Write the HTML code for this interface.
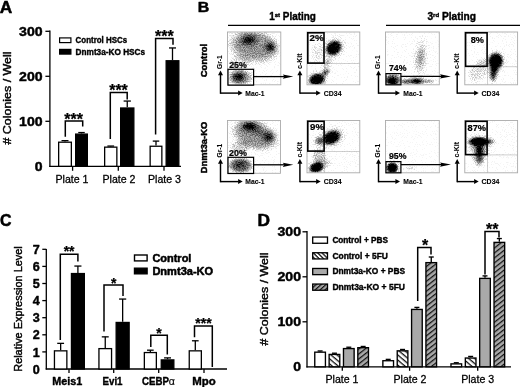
<!DOCTYPE html>
<html><head><meta charset="utf-8"><title>Figure</title>
<style>html,body{margin:0;padding:0;background:#fff}svg{display:block}text{font-family:"Liberation Sans", sans-serif}</style>
</head><body>
<svg width="520" height="387" viewBox="0 0 520 387">
<defs>
<radialGradient id="bg"><stop offset="0.0" stop-color="#000" stop-opacity="1.000"/><stop offset="0.1" stop-color="#000" stop-opacity="0.955"/><stop offset="0.2" stop-color="#000" stop-opacity="0.833"/><stop offset="0.3" stop-color="#000" stop-opacity="0.664"/><stop offset="0.4" stop-color="#000" stop-opacity="0.482"/><stop offset="0.5" stop-color="#000" stop-opacity="0.319"/><stop offset="0.6" stop-color="#000" stop-opacity="0.191"/><stop offset="0.7" stop-color="#000" stop-opacity="0.103"/><stop offset="0.8" stop-color="#000" stop-opacity="0.047"/><stop offset="0.9" stop-color="#000" stop-opacity="0.016"/><stop offset="1.0" stop-color="#000" stop-opacity="0.000"/></radialGradient>
<radialGradient id="bf"><stop offset="0" stop-color="#000" stop-opacity="1"/><stop offset="0.55" stop-color="#000" stop-opacity="0.9"/><stop offset="0.75" stop-color="#000" stop-opacity="0.5"/><stop offset="0.9" stop-color="#000" stop-opacity="0.15"/><stop offset="1" stop-color="#000" stop-opacity="0"/></radialGradient>
<pattern id="h1" width="3.9" height="3.9" patternUnits="userSpaceOnUse" patternTransform="rotate(40)"><rect width="3.9" height="3.9" fill="#fff"/><rect width="3.9" height="1.3" fill="#111"/></pattern>
<pattern id="h2" width="3.9" height="3.9" patternUnits="userSpaceOnUse" patternTransform="rotate(-38)"><rect width="3.9" height="3.9" fill="#a9a9a9"/><rect width="3.9" height="1.25" fill="#111"/></pattern>
<pattern id="h1s" width="3.1" height="3.1" patternUnits="userSpaceOnUse" patternTransform="rotate(45)"><rect width="3.1" height="3.1" fill="#fff"/><rect width="3.1" height="1.3" fill="#111"/></pattern>
<pattern id="h2s" width="3.3" height="3.3" patternUnits="userSpaceOnUse" patternTransform="rotate(-42)"><rect width="3.3" height="3.3" fill="#a9a9a9"/><rect width="3.3" height="1.2" fill="#111"/></pattern>
<filter id="soft" x="0" y="0" width="520" height="387" filterUnits="userSpaceOnUse"><feGaussianBlur stdDeviation="0.38"/></filter>
<filter id="dots" x="0" y="0" width="100%" height="100%" color-interpolation-filters="sRGB">
<feTurbulence type="fractalNoise" baseFrequency="0.9" numOctaves="2" seed="7" result="n"/>
<feColorMatrix in="n" type="matrix" values="0 0 0 0 0  0 0 0 0 0  0 0 0 0 0  3 0 0 0 -1" result="na"/>
<feComposite in="SourceGraphic" in2="na" operator="arithmetic" k1="0" k2="1.4" k3="-0.3" k4="0" result="c"/>
<feGaussianBlur in="c" stdDeviation="0.55"/>
</filter>
</defs>
<rect width="520" height="387" fill="#fff"/>
<g id="fig" filter="url(#soft)">
<text x="-0.3" y="12.6" font-size="16" stroke="#000" stroke-width="0.5" stroke-linejoin="round" font-weight="bold" textLength="12.5" lengthAdjust="spacingAndGlyphs">A</text>
<line x1="49.9" y1="30.4" x2="49.9" y2="166.9" stroke="#000" stroke-width="1.3"/>
<line x1="49.3" y1="166.3" x2="181" y2="166.3" stroke="#000" stroke-width="1.3"/>
<text x="42.6" y="170.9" font-size="13.2" stroke="#000" stroke-width="0.45" stroke-linejoin="round" font-weight="bold" text-anchor="end" textLength="7.8" lengthAdjust="spacingAndGlyphs">0</text>
<line x1="45.4" y1="121.30000000000001" x2="49.9" y2="121.30000000000001" stroke="#000" stroke-width="1.3"/>
<text x="42.6" y="125.9" font-size="13.2" stroke="#000" stroke-width="0.45" stroke-linejoin="round" font-weight="bold" text-anchor="end" textLength="23.5" lengthAdjust="spacingAndGlyphs">100</text>
<line x1="45.4" y1="76.30000000000001" x2="49.9" y2="76.30000000000001" stroke="#000" stroke-width="1.3"/>
<text x="42.6" y="80.9" font-size="13.2" stroke="#000" stroke-width="0.45" stroke-linejoin="round" font-weight="bold" text-anchor="end" textLength="23.5" lengthAdjust="spacingAndGlyphs">200</text>
<line x1="45.4" y1="31.30000000000001" x2="49.9" y2="31.30000000000001" stroke="#000" stroke-width="1.3"/>
<text x="42.6" y="35.90000000000001" font-size="13.2" stroke="#000" stroke-width="0.45" stroke-linejoin="round" font-weight="bold" text-anchor="end" textLength="23.5" lengthAdjust="spacingAndGlyphs">300</text>
<line x1="72.6" y1="166.3" x2="72.6" y2="170.8" stroke="#000" stroke-width="1.3"/>
<line x1="118.3" y1="166.3" x2="118.3" y2="170.8" stroke="#000" stroke-width="1.3"/>
<line x1="164" y1="166.3" x2="164" y2="170.8" stroke="#000" stroke-width="1.3"/>
<line x1="65.0" y1="141.55" x2="65.0" y2="140.65" stroke="#000" stroke-width="1.3"/>
<line x1="61.5" y1="140.65" x2="68.5" y2="140.65" stroke="#000" stroke-width="1.3"/>
<rect x="58.65" y="142.20000000000002" width="12.7" height="24.1" fill="#fff" stroke="#000" stroke-width="1.3"/>
<line x1="81.5" y1="133.45000000000002" x2="81.5" y2="132.55" stroke="#000" stroke-width="1.3"/>
<line x1="78.25" y1="132.55" x2="84.75" y2="132.55" stroke="#000" stroke-width="1.3"/>
<rect x="75.65" y="134.10000000000002" width="11.7" height="32.199999999999996" fill="#000" stroke="#000" stroke-width="1.3"/>
<line x1="110.75" y1="146.5" x2="110.75" y2="146.05" stroke="#000" stroke-width="1.3"/>
<line x1="107.375" y1="146.05" x2="114.125" y2="146.05" stroke="#000" stroke-width="1.3"/>
<rect x="104.65" y="147.15" width="12.2" height="19.150000000000013" fill="#fff" stroke="#000" stroke-width="1.3"/>
<line x1="127.25" y1="107.35000000000001" x2="127.25" y2="101.05000000000001" stroke="#000" stroke-width="1.3"/>
<line x1="123.625" y1="101.05000000000001" x2="130.875" y2="101.05000000000001" stroke="#000" stroke-width="1.3"/>
<rect x="120.65" y="108.00000000000001" width="13.2" height="58.300000000000004" fill="#000" stroke="#000" stroke-width="1.3"/>
<line x1="156.0" y1="145.60000000000002" x2="156.0" y2="141.10000000000002" stroke="#000" stroke-width="1.3"/>
<line x1="152.75" y1="141.10000000000002" x2="159.25" y2="141.10000000000002" stroke="#000" stroke-width="1.3"/>
<rect x="150.15" y="146.25000000000003" width="11.7" height="20.04999999999999" fill="#fff" stroke="#000" stroke-width="1.3"/>
<line x1="172.5" y1="60.10000000000001" x2="172.5" y2="47.95000000000001" stroke="#000" stroke-width="1.3"/>
<line x1="169.0" y1="47.95000000000001" x2="176.0" y2="47.95000000000001" stroke="#000" stroke-width="1.3"/>
<rect x="166.15" y="60.75000000000001" width="12.7" height="105.55" fill="#000" stroke="#000" stroke-width="1.3"/>
<path d="M65.3 136.8V121H82.7V126.5" stroke="#000" stroke-width="1.5" fill="none"/>
<text x="73.7" y="124.7" font-size="16" stroke="#000" stroke-width="0.25" stroke-linejoin="round" font-weight="bold" text-anchor="middle">***</text>
<path d="M110.3 139V92.5H127.2V99.5" stroke="#000" stroke-width="1.5" fill="none"/>
<text x="118.5" y="96.2" font-size="16" stroke="#000" stroke-width="0.25" stroke-linejoin="round" font-weight="bold" text-anchor="middle">***</text>
<path d="M155.6 134.5V38.4H173V44.8" stroke="#000" stroke-width="1.5" fill="none"/>
<text x="164.3" y="42.1" font-size="16" stroke="#000" stroke-width="0.25" stroke-linejoin="round" font-weight="bold" text-anchor="middle">***</text>
<text x="72" y="183.4" font-size="11.3" stroke="#000" stroke-width="0.3" stroke-linejoin="round" text-anchor="middle" textLength="33" lengthAdjust="spacingAndGlyphs">Plate 1</text>
<text x="119" y="183.3" font-size="11.3" stroke="#000" stroke-width="0.3" stroke-linejoin="round" text-anchor="middle" textLength="33" lengthAdjust="spacingAndGlyphs">Plate 2</text>
<text x="164.5" y="183.3" font-size="11.3" stroke="#000" stroke-width="0.3" stroke-linejoin="round" text-anchor="middle" textLength="33" lengthAdjust="spacingAndGlyphs">Plate 3</text>
<rect x="59.6" y="37.9" width="11.3" height="4.7" fill="#fff" stroke="#000" stroke-width="1.2"/>
<rect x="59.6" y="49.4" width="11.3" height="4.7" fill="#000" stroke="#000" stroke-width="1.2"/>
<text x="75.6" y="42.9" font-size="9" stroke="#000" stroke-width="0.4" stroke-linejoin="round" font-weight="bold" textLength="51.5" lengthAdjust="spacingAndGlyphs">Control HSCs</text>
<text x="75.6" y="54.9" font-size="9" stroke="#000" stroke-width="0.4" stroke-linejoin="round" font-weight="bold" textLength="69.5" lengthAdjust="spacingAndGlyphs">Dnmt3a-KO HSCs</text>
<text x="10.7" y="98" font-size="10.8" stroke="#000" stroke-width="0.42" stroke-linejoin="round" text-anchor="middle" textLength="93" lengthAdjust="spacingAndGlyphs" transform="rotate(-90 10.7 98)"># Colonies / Well</text>
<text x="0" y="225.7" font-size="16" stroke="#000" stroke-width="0.5" stroke-linejoin="round" font-weight="bold" textLength="11.5" lengthAdjust="spacingAndGlyphs">C</text>
<line x1="46.3" y1="249" x2="46.3" y2="369.6" stroke="#000" stroke-width="1.3"/>
<line x1="45.699999999999996" y1="369" x2="227" y2="369" stroke="#000" stroke-width="1.3"/>
<text x="39.8" y="373.6" font-size="13.2" stroke="#000" stroke-width="0.45" stroke-linejoin="round" font-weight="bold" text-anchor="end" textLength="7" lengthAdjust="spacingAndGlyphs">0</text>
<line x1="42.3" y1="351.9" x2="46.3" y2="351.9" stroke="#000" stroke-width="1.3"/>
<text x="39.8" y="356.5" font-size="13.2" stroke="#000" stroke-width="0.45" stroke-linejoin="round" font-weight="bold" text-anchor="end" textLength="7" lengthAdjust="spacingAndGlyphs">1</text>
<line x1="42.3" y1="334.8" x2="46.3" y2="334.8" stroke="#000" stroke-width="1.3"/>
<text x="39.8" y="339.40000000000003" font-size="13.2" stroke="#000" stroke-width="0.45" stroke-linejoin="round" font-weight="bold" text-anchor="end" textLength="7" lengthAdjust="spacingAndGlyphs">2</text>
<line x1="42.3" y1="317.7" x2="46.3" y2="317.7" stroke="#000" stroke-width="1.3"/>
<text x="39.8" y="322.3" font-size="13.2" stroke="#000" stroke-width="0.45" stroke-linejoin="round" font-weight="bold" text-anchor="end" textLength="7" lengthAdjust="spacingAndGlyphs">3</text>
<line x1="42.3" y1="300.6" x2="46.3" y2="300.6" stroke="#000" stroke-width="1.3"/>
<text x="39.8" y="305.20000000000005" font-size="13.2" stroke="#000" stroke-width="0.45" stroke-linejoin="round" font-weight="bold" text-anchor="end" textLength="7" lengthAdjust="spacingAndGlyphs">4</text>
<line x1="42.3" y1="283.5" x2="46.3" y2="283.5" stroke="#000" stroke-width="1.3"/>
<text x="39.8" y="288.1" font-size="13.2" stroke="#000" stroke-width="0.45" stroke-linejoin="round" font-weight="bold" text-anchor="end" textLength="7" lengthAdjust="spacingAndGlyphs">5</text>
<line x1="42.3" y1="266.4" x2="46.3" y2="266.4" stroke="#000" stroke-width="1.3"/>
<text x="39.8" y="271.0" font-size="13.2" stroke="#000" stroke-width="0.45" stroke-linejoin="round" font-weight="bold" text-anchor="end" textLength="7" lengthAdjust="spacingAndGlyphs">6</text>
<line x1="42.3" y1="249.29999999999998" x2="46.3" y2="249.29999999999998" stroke="#000" stroke-width="1.3"/>
<text x="39.8" y="253.89999999999998" font-size="13.2" stroke="#000" stroke-width="0.45" stroke-linejoin="round" font-weight="bold" text-anchor="end" textLength="7" lengthAdjust="spacingAndGlyphs">7</text>
<line x1="69" y1="369" x2="69" y2="373" stroke="#000" stroke-width="1.3"/>
<line x1="113.7" y1="369" x2="113.7" y2="373" stroke="#000" stroke-width="1.3"/>
<line x1="158.7" y1="369" x2="158.7" y2="373" stroke="#000" stroke-width="1.3"/>
<line x1="204" y1="369" x2="204" y2="373" stroke="#000" stroke-width="1.3"/>
<line x1="60.65" y1="350.19" x2="60.65" y2="343.35" stroke="#000" stroke-width="1.3"/>
<line x1="57.224999999999994" y1="343.35" x2="64.075" y2="343.35" stroke="#000" stroke-width="1.3"/>
<rect x="54.449999999999996" y="350.84" width="12.400000000000002" height="18.160000000000004" fill="#fff" stroke="#000" stroke-width="1.3"/>
<line x1="77.9" y1="272.898" x2="77.9" y2="266.05800000000005" stroke="#000" stroke-width="1.3"/>
<line x1="74.35000000000001" y1="266.05800000000005" x2="81.45" y2="266.05800000000005" stroke="#000" stroke-width="1.3"/>
<rect x="71.45" y="273.548" width="12.900000000000002" height="95.45199999999997" fill="#000" stroke="#000" stroke-width="1.3"/>
<line x1="105.25" y1="347.967" x2="105.25" y2="336.852" stroke="#000" stroke-width="1.3"/>
<line x1="101.775" y1="336.852" x2="108.725" y2="336.852" stroke="#000" stroke-width="1.3"/>
<rect x="98.95" y="348.61699999999996" width="12.600000000000005" height="20.383000000000017" fill="#fff" stroke="#000" stroke-width="1.3"/>
<line x1="122.65" y1="321.804" x2="122.65" y2="299.061" stroke="#000" stroke-width="1.3"/>
<line x1="119.075" y1="299.061" x2="126.22500000000001" y2="299.061" stroke="#000" stroke-width="1.3"/>
<rect x="116.15" y="322.45399999999995" width="13.00000000000001" height="46.54600000000003" fill="#000" stroke="#000" stroke-width="1.3"/>
<line x1="150.35" y1="351.9" x2="150.35" y2="350.19" stroke="#000" stroke-width="1.3"/>
<line x1="147.02499999999998" y1="350.19" x2="153.675" y2="350.19" stroke="#000" stroke-width="1.3"/>
<rect x="144.35" y="352.54999999999995" width="12.00000000000001" height="16.450000000000024" fill="#fff" stroke="#000" stroke-width="1.3"/>
<line x1="167.55" y1="359.253" x2="167.55" y2="357.885" stroke="#000" stroke-width="1.3"/>
<line x1="164.07500000000002" y1="357.885" x2="171.025" y2="357.885" stroke="#000" stroke-width="1.3"/>
<rect x="161.25" y="359.90299999999996" width="12.600000000000005" height="9.097000000000014" fill="#000" stroke="#000" stroke-width="1.3"/>
<line x1="195.3" y1="350.19" x2="195.3" y2="340.78499999999997" stroke="#000" stroke-width="1.3"/>
<line x1="191.95000000000002" y1="340.78499999999997" x2="198.65" y2="340.78499999999997" stroke="#000" stroke-width="1.3"/>
<rect x="189.25" y="350.84" width="12.100000000000005" height="18.160000000000004" fill="#fff" stroke="#000" stroke-width="1.3"/>
<path d="M60.3 340V254.2H77.9V261.5" stroke="#000" stroke-width="1.5" fill="none"/>
<text x="69.1" y="255.8" font-size="14" stroke="#000" stroke-width="0.25" stroke-linejoin="round" font-weight="bold" text-anchor="middle">**</text>
<path d="M104 331.5V285H123V296" stroke="#000" stroke-width="1.5" fill="none"/>
<text x="113.7" y="287.5" font-size="14" stroke="#000" stroke-width="0.25" stroke-linejoin="round" font-weight="bold" text-anchor="middle">*</text>
<path d="M150.8 347V335.3H167.3V354.5" stroke="#000" stroke-width="1.5" fill="none"/>
<text x="159" y="337.8" font-size="14" stroke="#000" stroke-width="0.25" stroke-linejoin="round" font-weight="bold" text-anchor="middle">*</text>
<path d="M194.5 337.3V325.9H212.3V367" stroke="#000" stroke-width="1.5" fill="none"/>
<text x="203.5" y="328.4" font-size="14" stroke="#000" stroke-width="0.25" stroke-linejoin="round" font-weight="bold" text-anchor="middle">***</text>
<text x="67.3" y="384.6" font-size="10.5" stroke="#000" stroke-width="0.4" stroke-linejoin="round" font-weight="bold" text-anchor="middle" textLength="30" lengthAdjust="spacingAndGlyphs">Meis1</text>
<text x="112.5" y="384.6" font-size="10.5" stroke="#000" stroke-width="0.4" stroke-linejoin="round" font-weight="bold" text-anchor="middle" textLength="20" lengthAdjust="spacingAndGlyphs">Evi1</text>
<text x="158.5" y="384.6" font-size="10.5" stroke="#000" stroke-width="0.4" stroke-linejoin="round" font-weight="bold" text-anchor="middle" textLength="33" lengthAdjust="spacingAndGlyphs">CEBP<tspan font-weight="normal" stroke-width="0.15" font-size="11.5">α</tspan></text>
<text x="204" y="384.6" font-size="10.5" stroke="#000" stroke-width="0.4" stroke-linejoin="round" font-weight="bold" text-anchor="middle" textLength="23.5" lengthAdjust="spacingAndGlyphs">Mpo</text>
<rect x="134.5" y="255" width="12.6" height="5.9" fill="#fff" stroke="#000" stroke-width="1.4"/>
<rect x="134.5" y="268.2" width="12.6" height="5.6" fill="#000" stroke="#000" stroke-width="1.4"/>
<text x="152.4" y="261.6" font-size="10.5" stroke="#000" stroke-width="0.5" stroke-linejoin="round" font-weight="bold" textLength="39" lengthAdjust="spacingAndGlyphs">Control</text>
<text x="152.4" y="274.6" font-size="10.5" stroke="#000" stroke-width="0.5" stroke-linejoin="round" font-weight="bold" textLength="60.8" lengthAdjust="spacingAndGlyphs">Dnmt3a-KO</text>
<text x="21.7" y="309" font-size="10.8" stroke="#000" stroke-width="0.42" stroke-linejoin="round" text-anchor="middle" textLength="125.5" lengthAdjust="spacingAndGlyphs" transform="rotate(-90 21.7 309)">Relative Expression Level</text>
<text x="257.5" y="225.7" font-size="16" stroke="#000" stroke-width="0.5" stroke-linejoin="round" font-weight="bold" textLength="12.5" lengthAdjust="spacingAndGlyphs">D</text>
<line x1="307" y1="231" x2="307" y2="367.40000000000003" stroke="#000" stroke-width="1.3"/>
<line x1="306.4" y1="366.8" x2="511" y2="366.8" stroke="#000" stroke-width="1.3"/>
<text x="301" y="371.40000000000003" font-size="13.2" stroke="#000" stroke-width="0.45" stroke-linejoin="round" font-weight="bold" text-anchor="end" textLength="7.8" lengthAdjust="spacingAndGlyphs">0</text>
<line x1="302.5" y1="321.8" x2="307" y2="321.8" stroke="#000" stroke-width="1.3"/>
<text x="301" y="326.40000000000003" font-size="13.2" stroke="#000" stroke-width="0.45" stroke-linejoin="round" font-weight="bold" text-anchor="end" textLength="23.5" lengthAdjust="spacingAndGlyphs">100</text>
<line x1="302.5" y1="276.8" x2="307" y2="276.8" stroke="#000" stroke-width="1.3"/>
<text x="301" y="281.40000000000003" font-size="13.2" stroke="#000" stroke-width="0.45" stroke-linejoin="round" font-weight="bold" text-anchor="end" textLength="23.5" lengthAdjust="spacingAndGlyphs">200</text>
<line x1="302.5" y1="231.8" x2="307" y2="231.8" stroke="#000" stroke-width="1.3"/>
<text x="301" y="236.4" font-size="13.2" stroke="#000" stroke-width="0.45" stroke-linejoin="round" font-weight="bold" text-anchor="end" textLength="23.5" lengthAdjust="spacingAndGlyphs">300</text>
<line x1="342.3" y1="366.8" x2="342.3" y2="370.8" stroke="#000" stroke-width="1.3"/>
<line x1="409.6" y1="366.8" x2="409.6" y2="370.8" stroke="#000" stroke-width="1.3"/>
<line x1="477.7" y1="366.8" x2="477.7" y2="370.8" stroke="#000" stroke-width="1.3"/>
<line x1="320.1" y1="351.5" x2="320.1" y2="350.96" stroke="#000" stroke-width="1.35"/>
<line x1="317.6" y1="350.96" x2="322.6" y2="350.96" stroke="#000" stroke-width="1.35"/>
<rect x="314.77500000000003" y="352.175" width="10.65" height="14.62500000000001" fill="#fff" stroke="#000" stroke-width="1.35"/>
<line x1="334.45000000000005" y1="353.75" x2="334.45000000000005" y2="353.21" stroke="#000" stroke-width="1.35"/>
<line x1="331.95000000000005" y1="353.21" x2="336.95000000000005" y2="353.21" stroke="#000" stroke-width="1.35"/>
<rect x="329.12500000000006" y="354.425" width="10.65" height="12.37500000000001" fill="url(#h1)" stroke="#000" stroke-width="1.35"/>
<line x1="348.8" y1="347.90000000000003" x2="348.8" y2="347.225" stroke="#000" stroke-width="1.35"/>
<line x1="346.3" y1="347.225" x2="351.3" y2="347.225" stroke="#000" stroke-width="1.35"/>
<rect x="343.475" y="348.57500000000005" width="10.65" height="18.224999999999977" fill="#a9a9a9" stroke="#000" stroke-width="1.35"/>
<line x1="363.15000000000003" y1="347.0" x2="363.15000000000003" y2="346.46" stroke="#000" stroke-width="1.35"/>
<line x1="360.65000000000003" y1="346.46" x2="365.65000000000003" y2="346.46" stroke="#000" stroke-width="1.35"/>
<rect x="357.82500000000005" y="347.675" width="10.65" height="19.12500000000001" fill="url(#h2)" stroke="#000" stroke-width="1.35"/>
<line x1="388.2" y1="360.05" x2="388.2" y2="359.375" stroke="#000" stroke-width="1.35"/>
<line x1="385.7" y1="359.375" x2="390.7" y2="359.375" stroke="#000" stroke-width="1.35"/>
<rect x="382.875" y="360.725" width="10.65" height="6.075" fill="#fff" stroke="#000" stroke-width="1.35"/>
<line x1="402.55" y1="350.15000000000003" x2="402.55" y2="349.475" stroke="#000" stroke-width="1.35"/>
<line x1="400.05" y1="349.475" x2="405.05" y2="349.475" stroke="#000" stroke-width="1.35"/>
<rect x="397.225" y="350.82500000000005" width="10.65" height="15.974999999999977" fill="url(#h1)" stroke="#000" stroke-width="1.35"/>
<line x1="416.9" y1="308.75" x2="416.9" y2="307.4" stroke="#000" stroke-width="1.35"/>
<line x1="414.4" y1="307.4" x2="419.4" y2="307.4" stroke="#000" stroke-width="1.35"/>
<rect x="411.575" y="309.425" width="10.65" height="57.375000000000014" fill="#a9a9a9" stroke="#000" stroke-width="1.35"/>
<line x1="431.25" y1="261.95" x2="431.25" y2="257.0" stroke="#000" stroke-width="1.35"/>
<line x1="428.75" y1="257.0" x2="433.75" y2="257.0" stroke="#000" stroke-width="1.35"/>
<rect x="425.925" y="262.625" width="10.65" height="104.17500000000003" fill="url(#h2)" stroke="#000" stroke-width="1.35"/>
<line x1="456.3" y1="363.2" x2="456.3" y2="362.75" stroke="#000" stroke-width="1.35"/>
<line x1="453.8" y1="362.75" x2="458.8" y2="362.75" stroke="#000" stroke-width="1.35"/>
<rect x="450.975" y="363.875" width="10.65" height="2.925000000000023" fill="#fff" stroke="#000" stroke-width="1.35"/>
<line x1="470.65000000000003" y1="357.35" x2="470.65000000000003" y2="356.45000000000005" stroke="#000" stroke-width="1.35"/>
<line x1="468.15000000000003" y1="356.45000000000005" x2="473.15000000000003" y2="356.45000000000005" stroke="#000" stroke-width="1.35"/>
<rect x="465.32500000000005" y="358.02500000000003" width="10.65" height="8.774999999999988" fill="url(#h1)" stroke="#000" stroke-width="1.35"/>
<line x1="485.0" y1="277.7" x2="485.0" y2="275.9" stroke="#000" stroke-width="1.35"/>
<line x1="482.5" y1="275.9" x2="487.5" y2="275.9" stroke="#000" stroke-width="1.35"/>
<rect x="479.675" y="278.375" width="10.65" height="88.42500000000003" fill="#a9a9a9" stroke="#000" stroke-width="1.35"/>
<line x1="499.35" y1="241.7" x2="499.35" y2="238.54999999999998" stroke="#000" stroke-width="1.35"/>
<line x1="496.85" y1="238.54999999999998" x2="501.85" y2="238.54999999999998" stroke="#000" stroke-width="1.35"/>
<rect x="494.02500000000003" y="242.375" width="10.65" height="124.42500000000003" fill="url(#h2)" stroke="#000" stroke-width="1.35"/>
<path d="M417.7 301V247.4H431V254.6" stroke="#000" stroke-width="1.5" fill="none"/>
<text x="425" y="251.1" font-size="16" stroke="#000" stroke-width="0.25" stroke-linejoin="round" font-weight="bold" text-anchor="middle">*</text>
<path d="M485 274.5V231.6H499V237.5" stroke="#000" stroke-width="1.5" fill="none"/>
<text x="492.2" y="235.3" font-size="16" stroke="#000" stroke-width="0.25" stroke-linejoin="round" font-weight="bold" text-anchor="middle">**</text>
<text x="342" y="383.3" font-size="11.3" stroke="#000" stroke-width="0.3" stroke-linejoin="round" text-anchor="middle" textLength="33" lengthAdjust="spacingAndGlyphs">Plate 1</text>
<text x="410" y="383.3" font-size="11.3" stroke="#000" stroke-width="0.3" stroke-linejoin="round" text-anchor="middle" textLength="33" lengthAdjust="spacingAndGlyphs">Plate 2</text>
<text x="477.7" y="383.3" font-size="11.3" stroke="#000" stroke-width="0.3" stroke-linejoin="round" text-anchor="middle" textLength="33" lengthAdjust="spacingAndGlyphs">Plate 3</text>
<rect x="312.7" y="237.05" width="14.8" height="6.2" fill="#fff" stroke="#000" stroke-width="1.3"/>
<text x="332.4" y="243.3" font-size="8.6" stroke="#000" stroke-width="0.4" stroke-linejoin="round" font-weight="bold" textLength="55.5" lengthAdjust="spacingAndGlyphs">Control + PBS</text>
<rect x="312.7" y="252.75" width="14.8" height="6.2" fill="url(#h1s)" stroke="#000" stroke-width="1.3"/>
<text x="332.4" y="258.7" font-size="8.6" stroke="#000" stroke-width="0.4" stroke-linejoin="round" font-weight="bold" textLength="55.5" lengthAdjust="spacingAndGlyphs">Control + 5FU</text>
<rect x="312.7" y="268.45" width="14.8" height="6.2" fill="#a9a9a9" stroke="#000" stroke-width="1.3"/>
<text x="332.4" y="274.2" font-size="8.6" stroke="#000" stroke-width="0.4" stroke-linejoin="round" font-weight="bold" textLength="72.6" lengthAdjust="spacingAndGlyphs">Dnmt3a-KO + PBS</text>
<rect x="312.7" y="284.05" width="14.8" height="6.2" fill="url(#h2s)" stroke="#000" stroke-width="1.3"/>
<text x="332.4" y="289.9" font-size="8.6" stroke="#000" stroke-width="0.4" stroke-linejoin="round" font-weight="bold" textLength="72.6" lengthAdjust="spacingAndGlyphs">Dnmt3a-KO + 5FU</text>
<text x="268.1" y="299" font-size="10.8" stroke="#000" stroke-width="0.42" stroke-linejoin="round" text-anchor="middle" textLength="93" lengthAdjust="spacingAndGlyphs" transform="rotate(-90 268.1 299)"># Colonies / Well</text>
<text x="197.7" y="12.4" font-size="15.3" stroke="#000" stroke-width="0.5" stroke-linejoin="round" font-weight="bold" textLength="11.5" lengthAdjust="spacingAndGlyphs">B</text>
<text x="269.2" y="20.2" font-size="10.3" stroke="#000" stroke-width="0.4" stroke-linejoin="round" font-weight="bold" textLength="46.7" lengthAdjust="spacingAndGlyphs">1<tspan font-size="6.2" dy="-3.2">st</tspan><tspan dy="3.2"> Plating</tspan></text>
<text x="427.4" y="20.2" font-size="10.3" stroke="#000" stroke-width="0.4" stroke-linejoin="round" font-weight="bold" textLength="48.5" lengthAdjust="spacingAndGlyphs">3<tspan font-size="6.2" dy="-3.2">rd</tspan><tspan dy="3.2"> Plating</tspan></text>
<line x1="228" y1="25.3" x2="360" y2="25.3" stroke="#000" stroke-width="1.2"/>
<line x1="386" y1="25.3" x2="520" y2="25.3" stroke="#000" stroke-width="1.2"/>
<text x="207.2" y="60.5" font-size="9.6" stroke="#000" stroke-width="0.45" stroke-linejoin="round" font-weight="bold" text-anchor="middle" textLength="33.5" lengthAdjust="spacingAndGlyphs" transform="rotate(-90 207.2 60.5)">Control</text>
<text x="207.2" y="147.5" font-size="9.6" stroke="#000" stroke-width="0.45" stroke-linejoin="round" font-weight="bold" text-anchor="middle" textLength="51.5" lengthAdjust="spacingAndGlyphs" transform="rotate(-90 207.2 147.5)">Dnmt3a-KO</text>
<g>
<clipPath id="cp227_32"><rect x="227.5" y="32" width="53.30000000000001" height="52.8"/></clipPath>
<rect x="227.5" y="32" width="53.30000000000001" height="52.8" fill="#fff"/>
<g clip-path="url(#cp227_32)"><g filter="url(#dots)"><rect x="227.5" y="32" width="53.30000000000001" height="52.8" fill="#000" opacity="0.036"/>
<ellipse cx="254" cy="46" rx="30.0" ry="19.5" fill="url(#bf)" opacity="0.41" transform="rotate(10 254 46)"/>
<ellipse cx="248.8" cy="40" rx="15.0" ry="10.5" fill="url(#bg)" opacity="0.7" transform="rotate(-8 248.8 40)"/>
<ellipse cx="270.4" cy="47.2" rx="10.5" ry="9.5" fill="url(#bg)" opacity="0.7"/>
<ellipse cx="240" cy="62" rx="13.0" ry="9.0" fill="url(#bf)" opacity="0.16"/>
<ellipse cx="238.6" cy="77" rx="14.0" ry="11.0" fill="url(#bg)" opacity="0.75"/>
<ellipse cx="241" cy="77.5" rx="14.5" ry="9.0" fill="url(#bf)" opacity="0.32"/>
</g></g>
<rect x="227.5" y="32" width="53.30000000000001" height="52.8" fill="none" stroke="#aaa" stroke-width="0.9"/>
<rect x="228" y="69.3" width="25.599999999999994" height="15.900000000000006" fill="none" stroke="#000" stroke-width="1.2"/>
<text x="229.2" y="68" font-size="8.8" stroke="#000" stroke-width="0.22" stroke-linejoin="round" font-weight="bold" textLength="17.6" lengthAdjust="spacingAndGlyphs">25%</text>
</g>
<g>
<clipPath id="cp307_32"><rect x="307" y="32" width="52.80000000000001" height="52.8"/></clipPath>
<rect x="307" y="32" width="52.80000000000001" height="52.8" fill="#fff"/>
<line x1="307" y1="63.5" x2="359.8" y2="63.5" stroke="#bbb" stroke-width="0.7"/>
<line x1="324.6" y1="63.5" x2="324.6" y2="84.8" stroke="#bbb" stroke-width="0.7"/>
<g clip-path="url(#cp307_32)"><g filter="url(#dots)"><rect x="307" y="32" width="52.80000000000001" height="52.8" fill="#000" opacity="0.036"/>
<ellipse cx="333.6" cy="48" rx="9.5" ry="7.8" fill="url(#bf)" opacity="0.75" transform="rotate(-38 333.6 48)"/>
<ellipse cx="333.6" cy="48" rx="17.0" ry="14.0" fill="url(#bg)" opacity="0.75" transform="rotate(-38 333.6 48)"/>
<ellipse cx="316.8" cy="79.6" rx="9.0" ry="6.8" fill="url(#bf)" opacity="0.78" transform="rotate(-12 316.8 79.6)"/>
<ellipse cx="317" cy="79.3" rx="15.5" ry="11.5" fill="url(#bg)" opacity="0.75" transform="rotate(-12 317 79.3)"/>
<ellipse cx="325.5" cy="72.5" rx="10.0" ry="6.0" fill="url(#bg)" opacity="0.55" transform="rotate(-40 325.5 72.5)"/>
<ellipse cx="327" cy="63" rx="7.0" ry="14.0" fill="url(#bg)" opacity="0.25" transform="rotate(35 327 63)"/>
<ellipse cx="317.5" cy="53" rx="7.0" ry="12.0" fill="url(#bf)" opacity="0.12"/>
</g></g>
<rect x="307" y="32" width="52.80000000000001" height="52.8" fill="none" stroke="#aaa" stroke-width="0.9"/>
<rect x="307.8" y="32.8" width="16.19999999999999" height="30.300000000000004" fill="none" stroke="#000" stroke-width="1.6"/>
<text x="309.6" y="41.3" font-size="8.8" stroke="#000" stroke-width="0.22" stroke-linejoin="round" font-weight="bold" textLength="14.2" lengthAdjust="spacingAndGlyphs">2%</text>
</g>
<g>
<clipPath id="cp385_32"><rect x="385.5" y="32" width="53.80000000000001" height="52.8"/></clipPath>
<rect x="385.5" y="32" width="53.80000000000001" height="52.8" fill="#fff"/>
<g clip-path="url(#cp385_32)"><g filter="url(#dots)"><rect x="385.5" y="32" width="53.80000000000001" height="52.8" fill="#000" opacity="0.036"/>
<ellipse cx="392" cy="81" rx="11.0" ry="9.0" fill="url(#bg)" opacity="1.0"/>
<ellipse cx="393" cy="79.5" rx="9.5" ry="7.0" fill="url(#bf)" opacity="0.45"/>
<ellipse cx="416.4" cy="81.2" rx="15.0" ry="6.5" fill="url(#bg)" opacity="0.9"/>
<ellipse cx="406" cy="81.7" rx="12.0" ry="5.5" fill="url(#bg)" opacity="0.5"/>
<ellipse cx="420.6" cy="58" rx="11.0" ry="29.0" fill="url(#bg)" opacity="0.36" transform="rotate(6 420.6 58)"/>
<ellipse cx="429" cy="81.3" rx="10.0" ry="4.5" fill="url(#bg)" opacity="0.35"/>
</g></g>
<rect x="385.5" y="32" width="53.80000000000001" height="52.8" fill="none" stroke="#aaa" stroke-width="0.9"/>
<rect x="386" y="73.6" width="14.899999999999977" height="11.200000000000003" fill="none" stroke="#000" stroke-width="1.2"/>
<text x="389" y="71" font-size="8.8" stroke="#000" stroke-width="0.22" stroke-linejoin="round" font-weight="bold" textLength="17.5" lengthAdjust="spacingAndGlyphs">74%</text>
</g>
<g>
<clipPath id="cp464_32"><rect x="464.8" y="32" width="52.80000000000001" height="52.8"/></clipPath>
<rect x="464.8" y="32" width="52.80000000000001" height="52.8" fill="#fff"/>
<line x1="464.8" y1="66.7" x2="517.6" y2="66.7" stroke="#bbb" stroke-width="0.7"/>
<line x1="487.5" y1="66.7" x2="487.5" y2="84.8" stroke="#bbb" stroke-width="0.7"/>
<g clip-path="url(#cp464_32)"><g filter="url(#dots)"><rect x="464.8" y="32" width="52.80000000000001" height="52.8" fill="#000" opacity="0.036"/>
<ellipse cx="495.8" cy="61" rx="8.5" ry="9.5" fill="url(#bf)" opacity="0.8" transform="rotate(8 495.8 61)"/>
<ellipse cx="495.5" cy="61" rx="14.0" ry="15.0" fill="url(#bg)" opacity="0.8" transform="rotate(8 495.5 61)"/>
<ellipse cx="494" cy="70" rx="8.5" ry="14.0" fill="url(#bg)" opacity="0.9" transform="rotate(8 494 70)"/>
<ellipse cx="493" cy="77" rx="6.0" ry="9.0" fill="url(#bg)" opacity="0.5"/>
<ellipse cx="478" cy="72" rx="14.0" ry="10.0" fill="url(#bf)" opacity="0.16" transform="rotate(-45 478 72)"/>
<ellipse cx="482" cy="62" rx="7.0" ry="5.0" fill="url(#bf)" opacity="0.15"/>
</g></g>
<rect x="464.8" y="32" width="52.80000000000001" height="52.8" fill="none" stroke="#aaa" stroke-width="0.9"/>
<rect x="465.6" y="32.8" width="21.5" height="33.5" fill="none" stroke="#000" stroke-width="1.6"/>
<text x="470.7" y="42.5" font-size="8.8" stroke="#000" stroke-width="0.22" stroke-linejoin="round" font-weight="bold" textLength="13.2" lengthAdjust="spacingAndGlyphs">8%</text>
</g>
<g>
<clipPath id="cp227_120"><rect x="227.5" y="120.5" width="53.0" height="52.80000000000001"/></clipPath>
<rect x="227.5" y="120.5" width="53.0" height="52.80000000000001" fill="#fff"/>
<g clip-path="url(#cp227_120)"><g filter="url(#dots)"><rect x="227.5" y="120.5" width="53.0" height="52.80000000000001" fill="#000" opacity="0.036"/>
<ellipse cx="255" cy="135" rx="28.0" ry="17.0" fill="url(#bf)" opacity="0.42" transform="rotate(18 255 135)"/>
<ellipse cx="249.6" cy="126.4" rx="16.0" ry="9.5" fill="url(#bg)" opacity="0.8"/>
<ellipse cx="268.6" cy="137" rx="11.0" ry="9.5" fill="url(#bg)" opacity="0.65"/>
<ellipse cx="259" cy="132" rx="15.0" ry="8.0" fill="url(#bg)" opacity="0.25" transform="rotate(25 259 132)"/>
<ellipse cx="240" cy="147" rx="12.0" ry="8.0" fill="url(#bf)" opacity="0.22"/>
<ellipse cx="240" cy="164.8" rx="14.0" ry="10.0" fill="url(#bg)" opacity="0.42"/>
<ellipse cx="240.7" cy="165.5" rx="14.5" ry="9.0" fill="url(#bf)" opacity="0.5"/>
</g></g>
<rect x="227.5" y="120.5" width="53.0" height="52.80000000000001" fill="none" stroke="#aaa" stroke-width="0.9"/>
<rect x="228" y="157.3" width="25.599999999999994" height="16.19999999999999" fill="none" stroke="#000" stroke-width="1.2"/>
<text x="229" y="156.2" font-size="8.8" stroke="#000" stroke-width="0.22" stroke-linejoin="round" font-weight="bold" textLength="17.9" lengthAdjust="spacingAndGlyphs">20%</text>
</g>
<g>
<clipPath id="cp307_120"><rect x="307" y="120.5" width="52.80000000000001" height="52.30000000000001"/></clipPath>
<rect x="307" y="120.5" width="52.80000000000001" height="52.30000000000001" fill="#fff"/>
<line x1="307" y1="151.5" x2="359.8" y2="151.5" stroke="#bbb" stroke-width="0.7"/>
<line x1="324.6" y1="151.5" x2="324.6" y2="172.8" stroke="#bbb" stroke-width="0.7"/>
<g clip-path="url(#cp307_120)"><g filter="url(#dots)"><rect x="307" y="120.5" width="52.80000000000001" height="52.30000000000001" fill="#000" opacity="0.036"/>
<ellipse cx="331.6" cy="137.5" rx="10.5" ry="7.5" fill="url(#bf)" opacity="0.75" transform="rotate(-25 331.6 137.5)"/>
<ellipse cx="331.6" cy="137.5" rx="19.0" ry="13.5" fill="url(#bg)" opacity="0.8" transform="rotate(-25 331.6 137.5)"/>
<ellipse cx="319.5" cy="141" rx="9.5" ry="8.5" fill="url(#bg)" opacity="0.55"/>
<ellipse cx="316.6" cy="167.4" rx="8.5" ry="6.0" fill="url(#bf)" opacity="0.75" transform="rotate(-20 316.6 167.4)"/>
<ellipse cx="316.8" cy="167.2" rx="15.0" ry="10.0" fill="url(#bg)" opacity="0.75" transform="rotate(-20 316.8 167.2)"/>
<ellipse cx="319" cy="156" rx="8.0" ry="10.0" fill="url(#bf)" opacity="0.25"/>
<ellipse cx="327" cy="162" rx="9.0" ry="8.0" fill="url(#bg)" opacity="0.18"/>
</g></g>
<rect x="307" y="120.5" width="52.80000000000001" height="52.30000000000001" fill="none" stroke="#aaa" stroke-width="0.9"/>
<rect x="307.8" y="121.3" width="16.30000000000001" height="29.799999999999997" fill="none" stroke="#000" stroke-width="1.6"/>
<text x="310" y="129.7" font-size="8.8" stroke="#000" stroke-width="0.22" stroke-linejoin="round" font-weight="bold" textLength="14" lengthAdjust="spacingAndGlyphs">9%</text>
</g>
<g>
<clipPath id="cp385_120"><rect x="385.5" y="120.5" width="53.80000000000001" height="52.30000000000001"/></clipPath>
<rect x="385.5" y="120.5" width="53.80000000000001" height="52.30000000000001" fill="#fff"/>
<g clip-path="url(#cp385_120)"><g filter="url(#dots)"><rect x="385.5" y="120.5" width="53.80000000000001" height="52.30000000000001" fill="#000" opacity="0.028"/>
<ellipse cx="392.2" cy="167.8" rx="6.5" ry="6.0" fill="url(#bf)" opacity="0.85"/>
<ellipse cx="392.2" cy="167.8" rx="11.0" ry="10.0" fill="url(#bg)" opacity="0.9"/>
<ellipse cx="410" cy="168.5" rx="12.0" ry="3.5" fill="url(#bg)" opacity="0.2"/>
</g></g>
<rect x="385.5" y="120.5" width="53.80000000000001" height="52.30000000000001" fill="none" stroke="#aaa" stroke-width="0.9"/>
<rect x="386" y="161.6" width="14.899999999999977" height="11.200000000000017" fill="none" stroke="#000" stroke-width="1.2"/>
<text x="389" y="159.3" font-size="8.8" stroke="#000" stroke-width="0.22" stroke-linejoin="round" font-weight="bold" textLength="17.5" lengthAdjust="spacingAndGlyphs">95%</text>
</g>
<g>
<clipPath id="cp464_120"><rect x="464.8" y="120.5" width="52.80000000000001" height="52.30000000000001"/></clipPath>
<rect x="464.8" y="120.5" width="52.80000000000001" height="52.30000000000001" fill="#fff"/>
<line x1="464.8" y1="154.9" x2="517.6" y2="154.9" stroke="#bbb" stroke-width="0.7"/>
<line x1="487.5" y1="154.9" x2="487.5" y2="172.8" stroke="#bbb" stroke-width="0.7"/>
<g clip-path="url(#cp464_120)"><g filter="url(#dots)"><rect x="464.8" y="120.5" width="52.80000000000001" height="52.30000000000001" fill="#000" opacity="0.036"/>
<ellipse cx="478.6" cy="141.8" rx="11.5" ry="5.2" fill="url(#bf)" opacity="0.8"/>
<ellipse cx="479" cy="141.8" rx="18.0" ry="10.0" fill="url(#bg)" opacity="0.9"/>
<ellipse cx="489" cy="141.5" rx="10.0" ry="5.5" fill="url(#bg)" opacity="0.55"/>
<ellipse cx="479.5" cy="151" rx="9.5" ry="15.0" fill="url(#bg)" opacity="0.9"/>
<ellipse cx="479.2" cy="160" rx="8.0" ry="11.0" fill="url(#bg)" opacity="0.5"/>
<ellipse cx="479" cy="150" rx="14.0" ry="14.0" fill="url(#bf)" opacity="0.15"/>
</g></g>
<rect x="464.8" y="120.5" width="52.80000000000001" height="52.30000000000001" fill="none" stroke="#aaa" stroke-width="0.9"/>
<rect x="465.6" y="121.3" width="21.5" height="33.3" fill="none" stroke="#000" stroke-width="1.6"/>
<text x="467.6" y="130.8" font-size="8.8" stroke="#000" stroke-width="0.22" stroke-linejoin="round" font-weight="bold" textLength="18.5" lengthAdjust="spacingAndGlyphs">87%</text>
</g>
<line x1="253.6" y1="76.6" x2="284.8" y2="76.6" stroke="#000" stroke-width="1.3"/>
<polygon points="293.3,76.6 282.8,78.7 284.3,76.6 282.8,74.5" fill="#000"/>
<line x1="400.9" y1="76.4" x2="442.0" y2="76.4" stroke="#000" stroke-width="1.4"/>
<polygon points="451.0,76.4 440.0,78.5 441.5,76.4 440.0,74.3" fill="#000"/>
<line x1="253.6" y1="164.8" x2="284.8" y2="164.8" stroke="#000" stroke-width="1.3"/>
<polygon points="293.3,164.8 282.8,166.9 284.3,164.8 282.8,162.7" fill="#000"/>
<line x1="400.9" y1="164.6" x2="442.0" y2="164.6" stroke="#000" stroke-width="1.4"/>
<polygon points="451.0,164.6 440.0,166.7 441.5,164.6 440.0,162.5" fill="#000"/>
<line x1="220.5" y1="93.1" x2="238.6" y2="93.1" stroke="#000" stroke-width="1.45"/>
<polygon points="242.7,93.1 238.1,95.6 238.1,93.1 238.1,90.6" fill="#000"/>
<line x1="220.5" y1="93.8" x2="220.5" y2="74.69999999999999" stroke="#000" stroke-width="1.45"/>
<polygon points="220.5,70.6 223.0,75.2 220.5,75.2 218.0,75.2" fill="#000"/>
<text x="245.3" y="95.89999999999999" font-size="7.8" stroke="#000" stroke-width="0.1" stroke-linejoin="round" font-weight="bold" textLength="19.2" lengthAdjust="spacingAndGlyphs">Mac-1</text>
<text x="222.2" y="62.1" font-size="8" stroke="#000" stroke-width="0.1" stroke-linejoin="round" font-weight="bold" text-anchor="middle" textLength="13.6" lengthAdjust="spacingAndGlyphs" transform="rotate(-90 222.2 62.1)">Gr-1</text>
<line x1="299.9" y1="93.1" x2="316.59999999999997" y2="93.1" stroke="#000" stroke-width="1.45"/>
<polygon points="320.7,93.1 316.1,95.6 316.1,93.1 316.1,90.6" fill="#000"/>
<line x1="299.9" y1="93.8" x2="299.9" y2="74.69999999999999" stroke="#000" stroke-width="1.45"/>
<polygon points="299.9,70.6 302.4,75.2 299.9,75.2 297.4,75.2" fill="#000"/>
<text x="323.8" y="95.89999999999999" font-size="7.8" stroke="#000" stroke-width="0.1" stroke-linejoin="round" font-weight="bold" textLength="17.8" lengthAdjust="spacingAndGlyphs">CD34</text>
<text x="301.59999999999997" y="61.2" font-size="8" stroke="#000" stroke-width="0.1" stroke-linejoin="round" font-weight="bold" text-anchor="middle" textLength="15.4" lengthAdjust="spacingAndGlyphs" transform="rotate(-90 301.59999999999997 61.2)">c-Kit</text>
<line x1="378.5" y1="93.1" x2="395.9" y2="93.1" stroke="#000" stroke-width="1.45"/>
<polygon points="400.0,93.1 395.4,95.6 395.4,93.1 395.4,90.6" fill="#000"/>
<line x1="378.5" y1="93.8" x2="378.5" y2="74.69999999999999" stroke="#000" stroke-width="1.45"/>
<polygon points="378.5,70.6 381.0,75.2 378.5,75.2 376.0,75.2" fill="#000"/>
<text x="403.3" y="95.89999999999999" font-size="7.8" stroke="#000" stroke-width="0.1" stroke-linejoin="round" font-weight="bold" textLength="19.2" lengthAdjust="spacingAndGlyphs">Mac-1</text>
<text x="380.2" y="62.1" font-size="8" stroke="#000" stroke-width="0.1" stroke-linejoin="round" font-weight="bold" text-anchor="middle" textLength="13.6" lengthAdjust="spacingAndGlyphs" transform="rotate(-90 380.2 62.1)">Gr-1</text>
<line x1="457.2" y1="93.1" x2="474.59999999999997" y2="93.1" stroke="#000" stroke-width="1.45"/>
<polygon points="478.7,93.1 474.1,95.6 474.1,93.1 474.1,90.6" fill="#000"/>
<line x1="457.2" y1="93.8" x2="457.2" y2="74.69999999999999" stroke="#000" stroke-width="1.45"/>
<polygon points="457.2,70.6 459.7,75.2 457.2,75.2 454.7,75.2" fill="#000"/>
<text x="481.6" y="95.89999999999999" font-size="7.8" stroke="#000" stroke-width="0.1" stroke-linejoin="round" font-weight="bold" textLength="17.8" lengthAdjust="spacingAndGlyphs">CD34</text>
<text x="458.9" y="61.2" font-size="8" stroke="#000" stroke-width="0.1" stroke-linejoin="round" font-weight="bold" text-anchor="middle" textLength="15.4" lengthAdjust="spacingAndGlyphs" transform="rotate(-90 458.9 61.2)">c-Kit</text>
<line x1="220.5" y1="181.6" x2="238.6" y2="181.6" stroke="#000" stroke-width="1.45"/>
<polygon points="242.7,181.6 238.1,184.1 238.1,181.6 238.1,179.1" fill="#000"/>
<line x1="220.5" y1="182.29999999999998" x2="220.5" y2="163.2" stroke="#000" stroke-width="1.45"/>
<polygon points="220.5,159.1 223.0,163.7 220.5,163.7 218.0,163.7" fill="#000"/>
<text x="245.3" y="184.4" font-size="7.8" stroke="#000" stroke-width="0.1" stroke-linejoin="round" font-weight="bold" textLength="19.2" lengthAdjust="spacingAndGlyphs">Mac-1</text>
<text x="222.2" y="150.6" font-size="8" stroke="#000" stroke-width="0.1" stroke-linejoin="round" font-weight="bold" text-anchor="middle" textLength="13.6" lengthAdjust="spacingAndGlyphs" transform="rotate(-90 222.2 150.6)">Gr-1</text>
<line x1="299.9" y1="181.6" x2="316.59999999999997" y2="181.6" stroke="#000" stroke-width="1.45"/>
<polygon points="320.7,181.6 316.1,184.1 316.1,181.6 316.1,179.1" fill="#000"/>
<line x1="299.9" y1="182.29999999999998" x2="299.9" y2="163.2" stroke="#000" stroke-width="1.45"/>
<polygon points="299.9,159.1 302.4,163.7 299.9,163.7 297.4,163.7" fill="#000"/>
<text x="323.8" y="184.4" font-size="7.8" stroke="#000" stroke-width="0.1" stroke-linejoin="round" font-weight="bold" textLength="17.8" lengthAdjust="spacingAndGlyphs">CD34</text>
<text x="301.59999999999997" y="149.7" font-size="8" stroke="#000" stroke-width="0.1" stroke-linejoin="round" font-weight="bold" text-anchor="middle" textLength="15.4" lengthAdjust="spacingAndGlyphs" transform="rotate(-90 301.59999999999997 149.7)">c-Kit</text>
<line x1="378.5" y1="181.6" x2="395.9" y2="181.6" stroke="#000" stroke-width="1.45"/>
<polygon points="400.0,181.6 395.4,184.1 395.4,181.6 395.4,179.1" fill="#000"/>
<line x1="378.5" y1="182.29999999999998" x2="378.5" y2="163.2" stroke="#000" stroke-width="1.45"/>
<polygon points="378.5,159.1 381.0,163.7 378.5,163.7 376.0,163.7" fill="#000"/>
<text x="403.3" y="184.4" font-size="7.8" stroke="#000" stroke-width="0.1" stroke-linejoin="round" font-weight="bold" textLength="19.2" lengthAdjust="spacingAndGlyphs">Mac-1</text>
<text x="380.2" y="150.6" font-size="8" stroke="#000" stroke-width="0.1" stroke-linejoin="round" font-weight="bold" text-anchor="middle" textLength="13.6" lengthAdjust="spacingAndGlyphs" transform="rotate(-90 380.2 150.6)">Gr-1</text>
<line x1="457.2" y1="181.6" x2="474.59999999999997" y2="181.6" stroke="#000" stroke-width="1.45"/>
<polygon points="478.7,181.6 474.1,184.1 474.1,181.6 474.1,179.1" fill="#000"/>
<line x1="457.2" y1="182.29999999999998" x2="457.2" y2="163.2" stroke="#000" stroke-width="1.45"/>
<polygon points="457.2,159.1 459.7,163.7 457.2,163.7 454.7,163.7" fill="#000"/>
<text x="481.6" y="184.4" font-size="7.8" stroke="#000" stroke-width="0.1" stroke-linejoin="round" font-weight="bold" textLength="17.8" lengthAdjust="spacingAndGlyphs">CD34</text>
<text x="458.9" y="149.7" font-size="8" stroke="#000" stroke-width="0.1" stroke-linejoin="round" font-weight="bold" text-anchor="middle" textLength="15.4" lengthAdjust="spacingAndGlyphs" transform="rotate(-90 458.9 149.7)">c-Kit</text>
</g>
</svg>
</body></html>
